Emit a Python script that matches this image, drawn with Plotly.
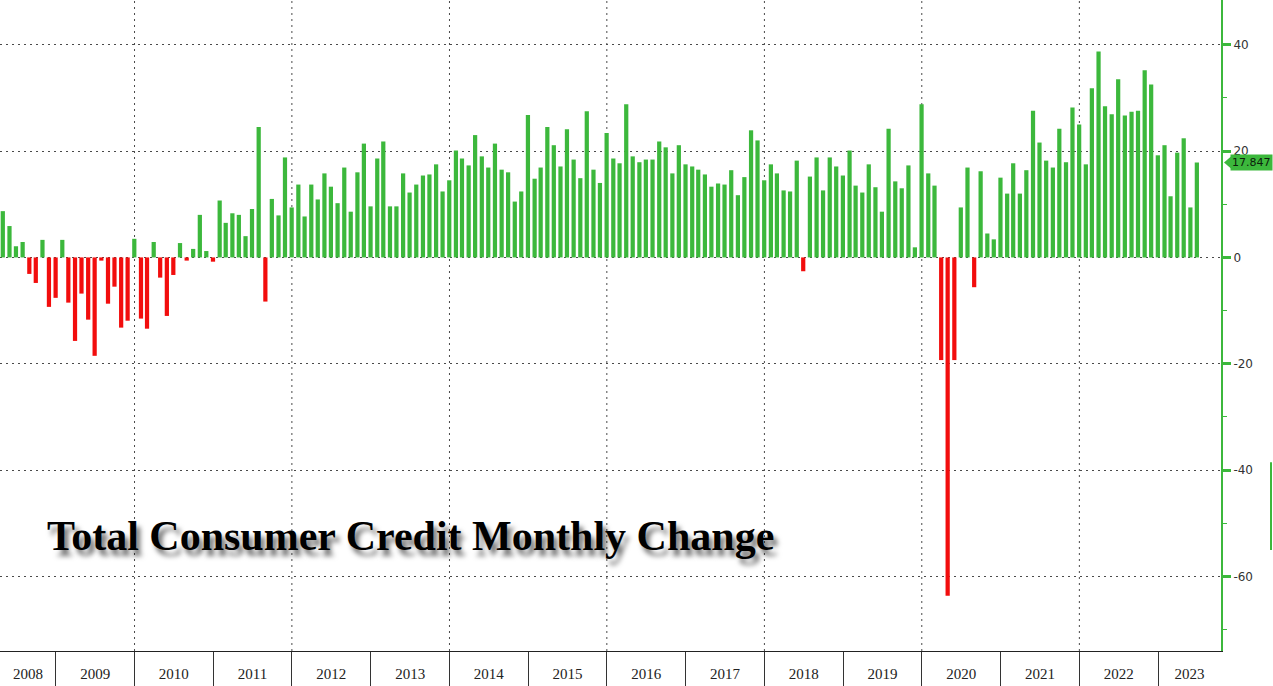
import pandas as pd
import plotly.graph_objects as go

# Monthly change in total consumer credit ($bn), Apr 2008 .. Jun 2023 (month-end)
START_MONTH = "2008-04"
values = [
    8.7, 5.9, 2.1, 2.9, -3.1, -4.8, 3.3, -9.3, -7.6,                     # 2008 Apr-Dec
    3.3, -8.5, -15.7, -6.8, -11.7, -18.5, -0.6, -8.7, -5.5, -13.2, -11.9, 3.5,   # 2009
    -11.5, -13.4, 2.9, -3.8, -11.0, -3.3, 2.7, -0.6, 1.6, 8.0, 1.2, -0.8,        # 2010
    10.7, 6.5, 8.3, 8.0, 4.0, 9.1, 24.5, -8.3, 11.0, 7.9, 18.8, 9.4,             # 2011
    13.7, 7.7, 13.7, 10.9, 15.8, 13.3, 10.2, 16.9, 8.6, 16.0, 21.4, 9.6,         # 2012
    18.6, 21.8, 9.6, 9.6, 15.8, 12.2, 13.7, 15.4, 15.6, 17.5, 12.4, 14.5,        # 2013
    20.1, 18.6, 17.3, 23.0, 19.0, 16.9, 21.4, 16.5, 16.0, 10.5, 12.4, 26.8,      # 2014
    14.8, 16.9, 24.5, 21.1, 17.1, 24.1, 18.4, 14.9, 27.5, 16.5, 14.0, 23.4,      # 2015
    18.6, 17.7, 28.8, 19.0, 17.9, 18.4, 18.4, 21.8, 20.7, 15.8, 21.1, 17.5,      # 2016
    17.1, 16.5, 15.6, 13.3, 13.9, 13.7, 16.4, 11.7, 15.1, 23.9, 22.0, 14.5,      # 2017
    17.5, 15.8, 12.6, 12.4, 18.2, -2.6, 15.2, 18.8, 12.6, 18.8, 17.1, 15.4,      # 2018
    20.1, 13.5, 12.2, 17.5, 13.2, 8.6, 24.2, 14.3, 13.0, 17.3, 1.9, 28.8,        # 2019
    15.8, 13.5, -19.3, -63.6, -19.3, 9.4, 16.9, -5.6, 16.2, 4.5, 3.4, 15.0,      # 2020
    12.0, 17.7, 12.0, 16.4, 27.6, 21.6, 18.2, 16.9, 24.2, 17.9, 28.2, 25.0,      # 2021
    17.5, 31.8, 38.7, 28.4, 26.9, 33.5, 26.7, 27.4, 27.6, 35.2, 32.5, 19.2,      # 2022
    21.1, 11.5, 19.7, 22.4, 9.4, 17.847,                                         # 2023 Jan-Jun
]
year_labels = [str(y) for y in range(2008, 2024)]
y_tick_values = [-60, -40, -20, 0, 20, 40]
y_tick_text = ["-60", "-40", "-20", "0", "20", "40"]
title_text = "Total Consumer Credit Monthly Change"

X_START = pd.Timestamp("2008-04-17")
X_END = pd.Timestamp("2023-10-20")

GREEN = "#3cb83c"
RED = "#f20d0d"
GRID = "#4a4a4a"

# month-end dates
dates = pd.date_range(start=pd.Timestamp(START_MONTH + "-01") + pd.DateOffset(months=1),
                      periods=len(values), freq="MS") - pd.Timedelta(days=1)
colors = [GREEN if v >= 0 else RED for v in values]

fig = go.Figure()
fig.add_trace(go.Bar(x=dates, y=values, marker=dict(color=colors, line=dict(width=0)),
                     hoverinfo="x+y"))

# year label positions: middle of the visible part of each year
tick_pos = []
for lab in year_labels:
    a = max(pd.Timestamp(f"{lab}-01-01"), X_START)
    b = min(pd.Timestamp(f"{int(lab)+1}-01-01"), X_END)
    tick_pos.append(a + (b - a) / 2)
separators = [pd.Timestamp(f"{y}-01-01") for y in year_labels[1:]]

fig.update_layout(
    width=1273, height=686,
    margin=dict(l=0, r=52, t=0, b=35),
    paper_bgcolor="white", plot_bgcolor="white",
    bargap=0.3, showlegend=False,
    xaxis=dict(
        type="date", range=[X_START, X_END], automargin=False,
        tickmode="array", tickvals=tick_pos, ticktext=year_labels,
        ticks="", ticklabelstandoff=9,
        tickfont=dict(family="Liberation Sans Narrow", size=15, color="#222"),
        showgrid=False, zeroline=False,
        showline=True, linecolor="#222", linewidth=1,
        minor=dict(tickmode="array", tickvals=separators, ticks="outside",
                   ticklen=36, tickcolor="#333", tickwidth=1, showgrid=False),
    ),
    yaxis=dict(
        side="right", range=[-74, 48.4], automargin=False,
        tickmode="array", tickvals=y_tick_values, ticktext=y_tick_text,
        ticks="outside", ticklen=8, tickwidth=3, tickcolor=GREEN,
        tickfont=dict(family="DejaVu Sans", size=12, color="#333"),
        showgrid=True, gridcolor=GRID, gridwidth=1, griddash="2px,4px",
        zeroline=False,
        showline=True, linecolor=GREEN, linewidth=2,
        minor=dict(tickmode="linear", tick0=0, dtick=10, ticks="outside",
                   ticklen=4, tickwidth=1, tickcolor=GREEN, showgrid=False),
    ),
)

# vertical dotted gridlines every two years
for lab in year_labels[2::2]:
    fig.add_shape(type="line", xref="x", yref="paper",
                  x0=pd.Timestamp(f"{lab}-01-01"), x1=pd.Timestamp(f"{lab}-01-01"),
                  y0=0, y1=1, layer="below",
                  line=dict(color=GRID, width=1, dash="2px,4px"))

# last value tag
last = values[-1]
px_per_unit = 651 / (48.4 + 74)
fig.add_shape(type="path", xref="paper", yref="y", layer="above",
              path=(f"M {1 + 3/1221} {last} L {1 + 10/1221} {last + 6/px_per_unit} "
                    f"L {1 + 10/1221} {last - 6/px_per_unit} Z"),
              fillcolor=GREEN, line=dict(width=0))
fig.add_annotation(x=1, xref="paper", y=last, yref="y", xanchor="left", yanchor="middle",
                   xshift=9, text=f"{last:.3f}", showarrow=False,
                   bgcolor=GREEN, borderpad=1,
                   font=dict(family="DejaVu Sans", size=11, color="#0b200b"))

# stray green edge on the right
fig.add_shape(type="line", xref="paper", yref="paper", x0=1271/1221, x1=1271/1221,
              y0=0.155, y1=0.29, line=dict(color=GREEN, width=2))

# chart title
fig.add_annotation(x=45/1221, xref="paper", y=0.1767, yref="paper",
                   xanchor="left", yanchor="middle", showarrow=False,
                   text=title_text,
                   font=dict(family="Liberation Serif", size=42, color="black",
                             weight="bold", shadow="4px 6px 5px rgba(0,0,0,0.55)"))

fig.write_html("out.html",
               config={"displayModeBar": False},
               post_script="document.body.style.margin='0';document.body.style.overflow='hidden';")
